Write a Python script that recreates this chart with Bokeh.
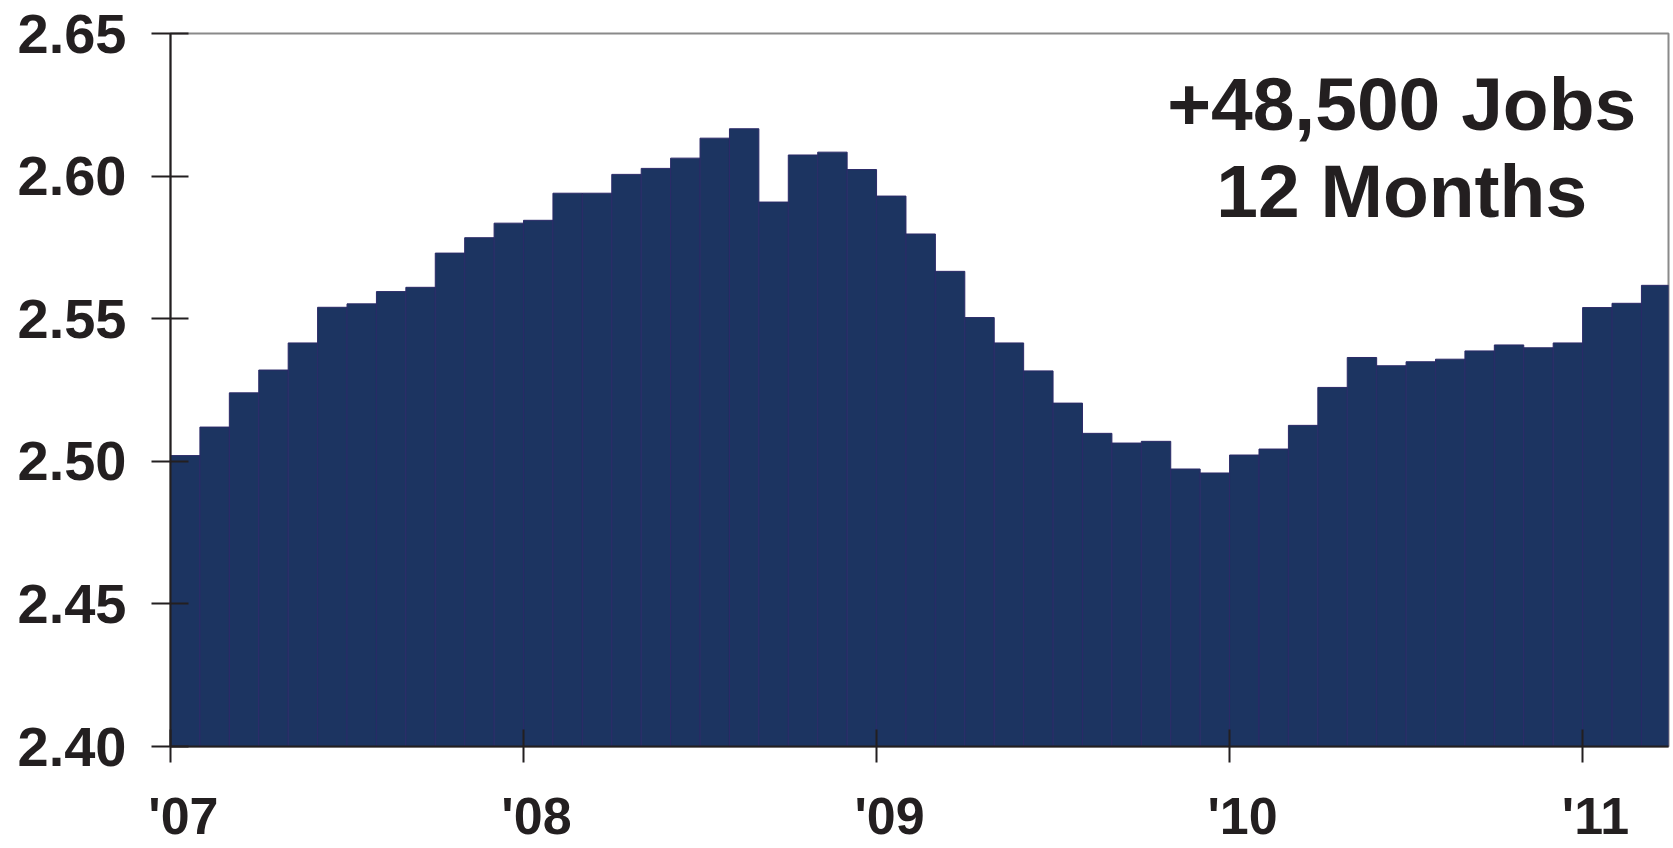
from bokeh.plotting import figure
from bokeh.models import Range1d, FixedTicker, NumeralTickFormatter, Label, ColumnDataSource
from bokeh.embed import file_html
from bokeh.resources import INLINE

# Monthly employment (millions), Jan 2007 - Mar 2011
values = [
    2.502, 2.512, 2.524, 2.532, 2.5415, 2.554, 2.5552, 2.5595, 2.561, 2.573, 2.5784, 2.5835,
    2.5845, 2.594, 2.594, 2.6006, 2.6027, 2.6063, 2.6133, 2.6166, 2.5909, 2.6074, 2.6084, 2.6023,
    2.593, 2.5797, 2.5666, 2.5504, 2.5415, 2.5317, 2.5204, 2.5098, 2.5064, 2.507, 2.4973, 2.4959,
    2.5022, 2.5043, 2.5126, 2.5259, 2.5364, 2.5335, 2.5349, 2.5358, 2.5387, 2.5408, 2.5398, 2.5415,
    2.5539, 2.5554, 2.5617,
]
year_labels = ["'07", "'08", "'09", "'10", "'11"]
y_ticks = [2.40, 2.45, 2.50, 2.55, 2.60, 2.65]
annotation_lines = ["+48,500 Jobs", "12 Months"]

FONT = "Liberation Sans"
DARK = "#231f20"
BAR_FILL = "#1c3461"
BAR_LINE = "#2b2a68"

n = len(values)
x_idx = [i + 0.5 for i in range(n)]
y_min, y_max = y_ticks[0], y_ticks[-1]
x_end = n - 0.08

p = figure(width=1672, height=847, output_backend="svg", toolbar_location=None,
           x_range=Range1d(0, x_end), y_range=Range1d(y_min, y_max),
           min_border_left=170, min_border_right=4, min_border_top=33, min_border_bottom=101)

src = ColumnDataSource(dict(x=x_idx, top=values, bottom=[y_min] * n))
p.vbar(x="x", top="top", bottom="bottom", width=1.0, source=src,
       fill_color=BAR_FILL, line_color=BAR_LINE, line_width=1)

p.xgrid.visible = False
p.ygrid.visible = False
p.background_fill_color = "white"
p.border_fill_color = "white"
p.outline_line_color = "#8a8a8a"
p.outline_line_width = 2

# x axis: tick marks at year starts (minor ticks), labels slightly right of them
year_starts = [12 * k for k in range(len(year_labels))]
label_pos = [s + 0.44 for s in year_starts]
xa = p.xaxis[0]
xa.ticker = FixedTicker(ticks=label_pos, minor_ticks=year_starts)
xa.major_label_overrides = {pos: t for pos, t in zip(label_pos, year_labels)}
xa.major_label_text_font = FONT
xa.major_label_text_font_style = "bold"
xa.major_label_text_font_size = "52px"
xa.major_label_text_color = DARK
xa.major_label_standoff = 24
xa.axis_line_color = DARK
xa.axis_line_width = 2
xa.major_tick_line_color = None
xa.major_tick_in = 0
xa.major_tick_out = 16
xa.minor_tick_line_color = DARK
xa.minor_tick_line_width = 2
xa.minor_tick_in = 17
xa.minor_tick_out = 16

ya = p.yaxis[0]
ya.ticker = FixedTicker(ticks=y_ticks, minor_ticks=[])
ya.formatter = NumeralTickFormatter(format="0.00")
ya.major_label_text_font = FONT
ya.major_label_text_font_style = "bold"
ya.major_label_text_font_size = "56px"
ya.major_label_text_color = DARK
ya.major_label_standoff = 25
ya.axis_line_color = DARK
ya.axis_line_width = 2
ya.major_tick_line_color = DARK
ya.major_tick_line_width = 2
ya.major_tick_in = 18
ya.major_tick_out = 19
ya.minor_tick_line_color = None

# annotation
ann_x = 41.85
ann_y = [y_max - 70.0 / 713.0 * (y_max - y_min), y_max - 157.0 / 713.0 * (y_max - y_min)]
for t, yy in zip(annotation_lines, ann_y):
    p.add_layout(Label(x=ann_x, y=yy, text=t, text_align="center", text_baseline="alphabetic",
                       text_font=FONT, text_font_style="bold", text_font_size="75px",
                       text_color=DARK))

open("out.html", "w").write(file_html(p, INLINE))
